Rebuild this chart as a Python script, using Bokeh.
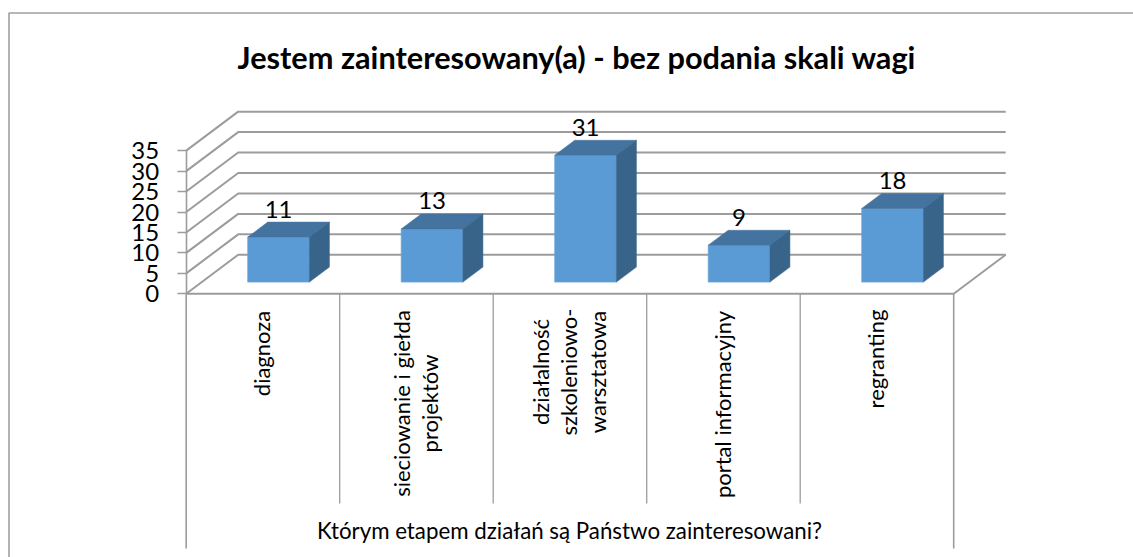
from math import pi
from bokeh.plotting import figure
from bokeh.models import Range1d, FixedTicker
from bokeh.core.properties import value
from bokeh.embed import file_html
from bokeh.resources import INLINE

# --- data ---
title_text = "Jestem zainteresowany(a)  - bez podania skali wagi"
axis_title = "Którym etapem działań są Państwo zainteresowani?"
categories = ["diagnoza", "sieciowanie i giełda\nprojektów",
              "działalność\nszkoleniowo-\nwarsztatowa", "portal informacyjny", "regranting"]
values = [11, 13, 31, 9, 18]
y_ticks = [0, 5, 10, 15, 20, 25, 30, 35]

# --- layout (pixels in the page) ---
FIG_W, FIG_H = 1133, 557
X0, Y0 = 185.7, 293.3           # screen position of the chart's origin
CAT_PX, VAL_PX = 153.5, 4.09    # pixels per category, pixels per value unit
DEPTH_X, DEPTH_Y = 52 / CAT_PX, 39 / VAL_PX  # full floor depth in data units
BAR_W, BAR_D0, BAR_D1 = 0.402, 0.30, 0.685
FONT = value("Lato")
GRID = "#9c9c9c"

def sx(px):
    return (px - X0) / CAT_PX

def sy(py):
    return (Y0 - py) / VAL_PX

def proj(cat, val, depth):
    return cat + depth * DEPTH_X, val + depth * DEPTH_Y

p = figure(width=FIG_W, height=FIG_H, output_backend="svg", toolbar_location=None,
           x_range=Range1d(sx(0), sx(FIG_W)),
           y_range=Range1d(sy(FIG_H), sy(0)),
           min_border=0, outline_line_color=None, x_axis_location=None)
p.grid.visible = False
p.background_fill_color = "white"

# outer chart frame (only its top and left edges lie inside the page)
p.line([sx(8.5), sx(8.5), sx(FIG_W)],
       [sy(FIG_H), sy(12.5), sy(12.5)],
       line_color="#a0a0a0", line_width=1.6)

# y axis
ax = p.yaxis[0]
ax.fixed_location = 0
ax.bounds = (y_ticks[0], y_ticks[-1])
ax.ticker = FixedTicker(ticks=y_ticks)
ax.axis_line_color = GRID
ax.axis_line_width = 1.6
ax.major_tick_line_color = GRID
ax.major_tick_line_width = 1.6
ax.major_tick_out = 9
ax.major_tick_in = 0
ax.minor_tick_line_color = None
ax.major_label_standoff = 18
ax.major_label_text_font = "Lato"
ax.major_label_text_font_size = "24px"
ax.major_label_text_color = "#000000"

n = len(categories)
# walls & floor
for v in y_ticks:
    x1, y1 = proj(0, v, 0)
    x2, y2 = proj(0, v, 1)
    x3, y3 = proj(n, v, 1)
    p.line([x1, x2, x3], [y1, y2, y3], line_color=GRID, line_width=2)
fx, fy = proj(n, 0, 1)
p.line([0, n, fx], [0, 0, fy], line_color=GRID, line_width=2)

# category separators
p.segment(list(range(1, n)), [0] * (n - 1), list(range(1, n)), [sy(503)] * (n - 1),
          line_color=GRID, line_width=1.3)
p.segment([0, n], [0, 0], [0, n], [sy(548), sy(548)], line_color=GRID, line_width=1.6)

# bars
for i, v in enumerate(values):
    c0 = i + 0.5 - BAR_W / 2
    c1 = i + 0.5 + BAR_W / 2
    a = proj(c0, 0, BAR_D0); b = proj(c1, 0, BAR_D0)
    c = proj(c1, v, BAR_D0); d = proj(c0, v, BAR_D0)
    e = proj(c0, v, BAR_D1); f = proj(c1, v, BAR_D1)
    g = proj(c1, 0, BAR_D1)
    p.patch([a[0], b[0], c[0], d[0]], [a[1], b[1], c[1], d[1]], fill_color="#5b9bd5", line_color="#6ba5da", line_width=0.7)
    p.patch([d[0], c[0], f[0], e[0]], [d[1], c[1], f[1], e[1]], fill_color="#44739f", line_color="#44739f", line_width=0.5)
    p.patch([b[0], g[0], f[0], c[0]], [b[1], g[1], f[1], c[1]], fill_color="#39648a", line_color="#39648a", line_width=0.5)
    p.text([(c[0] + d[0]) / 2], [c[1]], text=[str(v)], text_font=FONT, text_font_size="24px",
           text_color="#000000", text_align="center", text_baseline="alphabetic", y_offset=-28)

# category labels (block centred on the column, vertical, ends at the top)
label_len = [88, 188, 125, 190, 99]
label_top = 309
for i, lab in enumerate(categories):
    p.text([i + 0.5], [sy(label_top + label_len[i] / 2)], text=[lab], angle=pi / 2,
           text_font=FONT, text_font_size="22px", text_color="#000000",
           text_align="center", text_baseline="middle", text_line_height=1.07, x_offset=-1)

# title & axis title
p.text([sx(580)], [sy(57)], text=[title_text], text_font=FONT, text_font_style="bold",
       text_font_size="30.7px", text_color="#000000", text_align="center", text_baseline="middle")
p.text([sx(569)], [sy(530)], text=[axis_title], text_font=FONT, text_font_size="22.3px",
       text_color="#000000", text_align="center", text_baseline="middle")

open("out.html", "w").write(file_html(p, INLINE))
